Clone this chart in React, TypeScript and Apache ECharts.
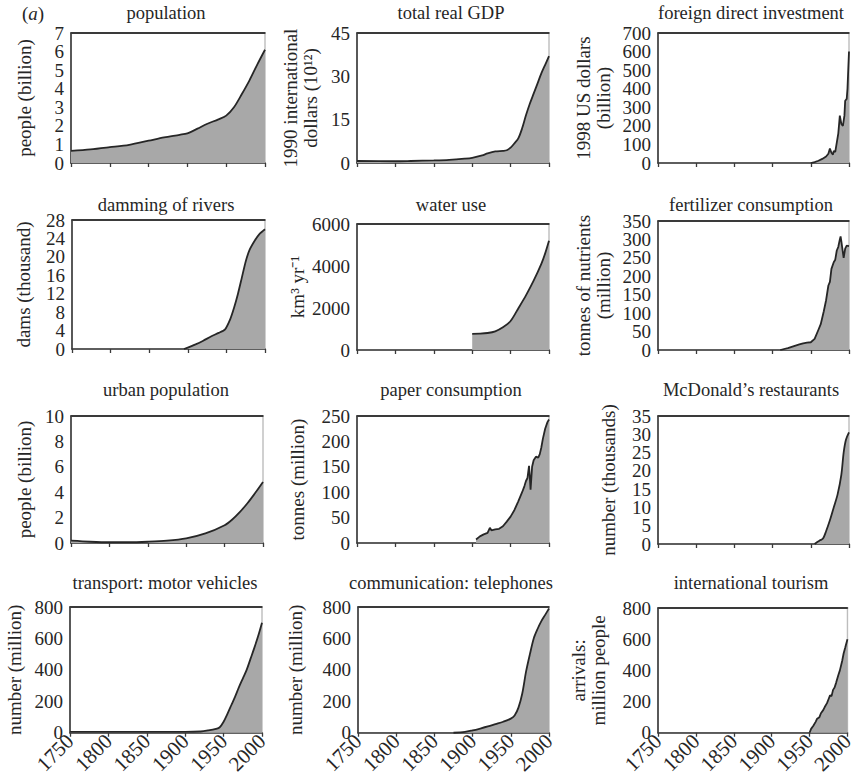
import React, { useEffect, useRef } from 'react';
import * as echarts from 'echarts';

// ---- data: [year, value] ----
const population = [[1750,0.65],[1775,0.73],[1800,0.85],[1825,0.98],[1850,1.2],[1870,1.38],[1890,1.52],[1900,1.6],[1913,1.85],[1925,2.1],[1940,2.35],[1950,2.55],[1960,3.0],[1970,3.7],[1980,4.45],[1990,5.3],[2000,6.1]];
const gdp = [[1750,0.7],[1800,0.6],[1820,0.7],[1850,0.9],[1870,1.1],[1890,1.5],[1900,1.8],[1913,2.6],[1920,3.3],[1930,4.0],[1940,4.2],[1945,4.4],[1950,5.3],[1955,6.8],[1960,8.5],[1965,12],[1970,16.5],[1975,20.5],[1980,24],[1985,27.5],[1990,31],[1995,34],[2000,37]];
const fdi = [[1950,0],[1955,5],[1960,12],[1965,22],[1970,35],[1973,50],[1975,78],[1977,55],[1979,45],[1980,65],[1982,60],[1984,110],[1986,160],[1988,255],[1990,210],[1992,200],[1994,255],[1995,335],[1997,345],[1998,400],[1999,500],[2000,600]];
const dams = [[1895,0],[1900,0.3],[1910,1.0],[1920,1.8],[1930,2.7],[1940,3.5],[1948,4.2],[1955,6.5],[1960,9],[1965,12],[1970,15.5],[1975,19],[1980,21.5],[1987,23.6],[1993,25],[2000,26]];
const water = [[1900,770],[1910,780],[1920,810],[1930,890],[1940,1080],[1950,1380],[1960,1980],[1970,2600],[1980,3300],[1990,4100],[1995,4600],[2000,5200]];
const fertilizer = [[1910,0],[1920,5],[1930,12],[1935,15],[1940,18],[1945,20],[1950,21],[1955,30],[1960,55],[1963,70],[1967,105],[1970,135],[1973,175],[1975,185],[1977,220],[1980,238],[1982,245],[1984,270],[1986,280],[1988,300],[1989,308],[1990,295],[1991,280],[1993,250],[1995,275],[1997,283],[2000,282]];
const urban = [[1750,0.18],[1775,0.1],[1800,0.06],[1825,0.06],[1850,0.1],[1875,0.18],[1900,0.36],[1925,0.75],[1950,1.4],[1960,1.85],[1970,2.45],[1980,3.15],[1990,3.95],[2000,4.8]];
const paper = [[1905,7],[1910,13],[1915,17],[1920,20],[1923,30],[1925,25],[1930,27],[1935,28],[1940,33],[1945,42],[1950,52],[1955,65],[1960,82],[1965,100],[1968,112],[1970,122],[1972,128],[1974,152],[1975,130],[1976,105],[1978,150],[1980,163],[1983,170],[1986,168],[1988,175],[1990,188],[1992,205],[1995,225],[1998,238],[2000,243]];
const mcdonalds = [[1955,0],[1958,0.5],[1962,1.0],[1966,1.5],[1970,3.5],[1975,6.5],[1980,10],[1985,13.5],[1990,19],[1993,25],[1996,28.5],[2000,30.5]];
const vehicles = [[1750,5],[1900,5],[1920,8],[1930,15],[1940,25],[1945,35],[1950,70],[1955,120],[1960,175],[1965,230],[1970,290],[1975,345],[1980,400],[1985,470],[1990,540],[1995,615],[2000,700]];
const phones = [[1875,0],[1890,5],[1900,15],[1910,27],[1920,40],[1930,55],[1940,70],[1950,90],[1955,110],[1960,160],[1965,250],[1970,390],[1975,500],[1980,600],[1985,660],[1990,710],[1995,750],[2000,790]];
const tourism = [[1950,0],[1952,25],[1955,45],[1958,70],[1960,90],[1963,100],[1965,125],[1968,145],[1970,165],[1973,190],[1975,215],[1977,240],[1979,235],[1981,275],[1983,290],[1985,320],[1988,370],[1990,400],[1993,460],[1995,510],[1997,545],[2000,600]];

const xTicks = [1750, 1800, 1850, 1900, 1950, 2000];

const FONT = '"Liberation Serif", "Times New Roman", Times, serif';
const INK = '#262626';
const AXIS = '#3a3a3a';

const PANELS = [
  { title: 'population', yName: 'people (billion)', max: 7, interval: 1, data: population, smooth: 0.3, rect: [71, 33, 194, 130], gap: 37, t: [166, 13] },
  { title: 'total real GDP', yName: '1990 international\ndollars (10¹²)', max: 45, interval: 15, data: gdp, smooth: 0.3, rect: [357, 33, 192, 130], gap: 37, t: [451, 13] },
  { title: 'foreign direct investment', yName: '1998 US dollars\n(billion)', max: 700, interval: 100, data: fdi, smooth: false, rect: [658, 33, 191, 130], gap: 45, t: [751, 13] },
  { title: 'damming of rivers', yName: 'dams (thousand)', max: 28, interval: 4, data: dams, smooth: 0.2, rect: [72, 220, 193, 129], gap: 39, t: [166, 205] },
  { title: 'water use', yName: 'km³ yr⁻¹', max: 6000, interval: 2000, data: water, smooth: 0.3, rect: [357, 224, 192, 126], gap: 50, t: [451, 205] },
  { title: 'fertilizer consumption', yName: 'tonnes of nutrients\n(million)', max: 350, interval: 50, data: fertilizer, smooth: false, rect: [658, 221, 191, 129], gap: 45, t: [751, 205] },
  { title: 'urban population', yName: 'people (billion)', max: 10, interval: 2, data: urban, smooth: 0.3, rect: [71, 416, 192, 127], gap: 37, t: [166, 390] },
  { title: 'paper consumption', yName: 'tonnes (million)', max: 250, interval: 50, data: paper, smooth: false, rect: [357, 416, 192, 127], gap: 50, t: [451, 390] },
  { title: 'McDonald’s restaurants', yName: 'number (thousands)', max: 35, interval: 5, data: mcdonalds, smooth: 0.3, rect: [658, 416, 191, 128], gap: 40, t: [751, 390] },
  { title: 'transport: motor vehicles', yName: 'number (million)', max: 800, interval: 200, data: vehicles, smooth: 0.3, rect: [70, 607, 192, 126], gap: 46, t: [165, 583] },
  { title: 'communication: telephones', yName: 'number (million)', max: 800, interval: 200, data: phones, smooth: 0.3, rect: [358, 607, 191, 127], gap: 53, t: [451, 583] },
  { title: 'international tourism', yName: 'arrivals:\nmillion people', max: 800, interval: 200, data: tourism, smooth: false, rect: [658, 608, 190, 126], gap: 50, t: [751, 583] },
];

export default function App() {
  const ref = useRef<HTMLDivElement>(null);
  useEffect(() => {
    if (!ref.current) return;
    const chart = echarts.init(ref.current, undefined, { renderer: 'svg' });
    const grid: any[] = [];
    const xAxis: any[] = [];
    const yAxis: any[] = [];
    const series: any[] = [];
    const title: any[] = [];
    const labelStyle = { fontSize: 19, color: INK, fontFamily: FONT, margin: 7 };
    PANELS.forEach((p, i) => {
      const bottomRow = i >= 9;
      const ticks: number[] = [];
      for (let k = 0; k * p.interval <= p.max + 1e-9; k++) ticks.push(k * p.interval);
      const even = ticks.filter((_, k) => k % 2 === 0);
      const odd = ticks.filter((_, k) => k % 2 === 1);
      grid.push({
        left: p.rect[0], top: p.rect[1], width: p.rect[2], height: p.rect[3],
        show: true, borderColor: '#bdbdbd', borderWidth: 1.4,
      });
      xAxis.push({
        type: 'value', gridIndex: i, min: 1750, max: 2000, interval: 50, position: 'bottom',
        axisLine: { show: true, onZero: false, lineStyle: { color: AXIS, width: 1.6 } },
        axisTick: { show: true, inside: false, length: 4, lineStyle: { color: AXIS, width: 1.3 } },
        splitLine: { show: false },
        axisLabel: {
          show: bottomRow, rotate: 45, margin: 5, fontSize: 21, color: INK, fontFamily: FONT,
          customValues: xTicks,
          formatter: (v: number) => String(v),
        },
      });
      // top frame axis
      xAxis.push({
        type: 'value', gridIndex: i, min: 1750, max: 2000, interval: 50, position: 'top',
        axisLine: { show: true, onZero: false, lineStyle: { color: AXIS, width: 1.6 } },
        axisTick: { show: false }, axisLabel: { show: false }, splitLine: { show: false },
      });
      yAxis.push({
        type: 'value', gridIndex: i, min: 0, max: p.max, interval: p.interval, position: 'left',
        axisLine: { show: true, onZero: false, lineStyle: { color: AXIS, width: 1.6 } },
        axisTick: { show: false }, splitLine: { show: false },
        axisLabel: { ...labelStyle, customValues: even, formatter: (v: number) => String(v) },
        name: p.yName, nameLocation: 'middle', nameRotate: 90, nameGap: p.gap,
        nameTextStyle: { fontSize: 19, color: INK, fontFamily: FONT, lineHeight: 20 },
      });
      yAxis.push({
        type: 'value', gridIndex: i, min: 0, max: p.max, interval: p.interval, position: 'left',
        axisLine: { show: false, onZero: false }, axisTick: { show: false }, splitLine: { show: false },
        axisLabel: { ...labelStyle, customValues: odd.length ? odd : [0], show: odd.length > 0, formatter: (v: number) => String(v) },
      });
      series.push({
        type: 'line', xAxisIndex: 2 * i, yAxisIndex: 2 * i, data: p.data, symbol: 'none', showSymbol: false,
        smooth: p.smooth, clip: false,
        lineStyle: { color: INK, width: 1.8 },
        areaStyle: { color: '#a8a8a8', opacity: 1 },
        markLine: {
          silent: true, symbol: 'none', label: { show: false }, z: 20,
          lineStyle: { color: AXIS, width: 1.8, type: 'solid', opacity: 1 },
          emphasis: { disabled: true },
          data: [{ yAxis: p.max }],
        },
      });
      title.push({
        text: p.title, left: p.t[0], top: p.t[1], padding: 0, textAlign: 'center', textVerticalAlign: 'middle',
        textStyle: { fontSize: 18.5, fontFamily: FONT, color: INK, fontWeight: 'normal' },
      });
    });
    title.push({
      text: '{n|(}{i|a}{n|)}', left: 22, top: 13, padding: 0, textAlign: 'left', textVerticalAlign: 'middle',
      textStyle: {
        fontWeight: 'normal',
        rich: {
          n: { fontSize: 19, fontFamily: FONT, color: INK },
          i: { fontSize: 19, fontFamily: FONT, fontStyle: 'italic', color: INK },
        },
      },
    });
    chart.setOption({
      animation: false,
      title, grid, xAxis, yAxis, series,
    });
    return () => chart.dispose();
  }, []);
  return <div ref={ref} style={{ position: 'absolute', left: 0, top: 0, width: 857, height: 777 }} />;
}
